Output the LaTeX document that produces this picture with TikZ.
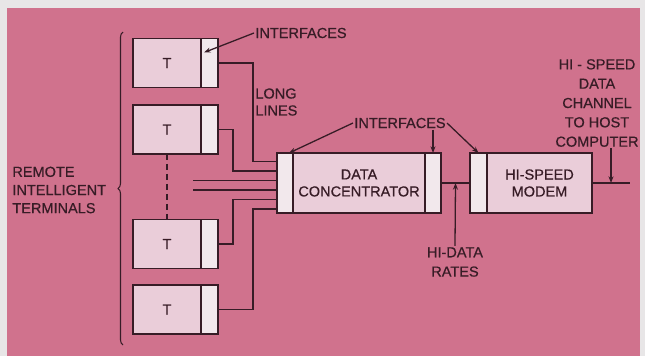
\documentclass[tikz,border=0pt]{standalone}
\usepackage{fontspec,xcolor}
\setmainfont{Liberation Sans}[FakeBold=0.6]
\usetikzlibrary{calc,decorations.pathreplacing,arrows.meta}
\definecolor{pagebg}{RGB}{232,230,231}
\definecolor{panel}{RGB}{208,114,141}
\definecolor{boxfill}{RGB}{234,205,217}
\definecolor{portfill}{RGB}{242,232,236}
\definecolor{ink}{RGB}{55,28,38}

\begin{document}
\begin{tikzpicture}[x=0.3mm, y=-0.3mm,
  every node/.style={font=\fontsize{12.4}{14.5}\selectfont, text=ink, inner sep=1pt},
  unit/.style={draw=ink, line width=1.4pt, fill=boxfill, outer sep=0pt, inner sep=0pt},
  port/.style={draw=ink, line width=1.4pt, fill=portfill, outer sep=0pt, inner sep=0pt},
  wire/.style={draw=ink, line width=1.1pt},
  arr/.style={wire, -{Stealth[length=2mm,width=1.5mm]}}]

  % panel and margins
  \useasboundingbox (0,0) rectangle (645,356);
  \fill[pagebg] (0,0) rectangle (645,356);
  \fill[panel] (7,8) rectangle (640,356);

  % remote terminals, each with its interface
  \foreach \n/\yc in {1/63,2/129.5,3/244,4/309.5}{
    \node[unit, minimum width=68*0.3mm, minimum height=49*0.3mm] (t\n) at (167,\yc) {T};
    \node[port, minimum width=17*0.3mm, minimum height=49*0.3mm, anchor=west] (p\n) at (t\n.east) {};
  }
  \draw[wire, dash pattern=on 5pt off 3.5pt] (t2.south) -- (t3.north);

  % data concentrator
  \node[unit, minimum width=132*0.3mm, minimum height=60*0.3mm, align=center] (dc) at (359,183) {DATA\\CONCENTRATOR};
  \node[port, minimum width=16*0.3mm, minimum height=60*0.3mm, anchor=east] (dcl) at (dc.west) {};
  \node[port, minimum width=16*0.3mm, minimum height=60*0.3mm, anchor=west] (dcr) at (dc.east) {};

  % hi-speed modem
  \node[unit, minimum width=105*0.3mm, minimum height=60*0.3mm, align=center] (md) at (539.5,183) {HI-SPEED\\MODEM};
  \node[port, minimum width=17*0.3mm, minimum height=60*0.3mm, anchor=east] (mdl) at (md.west) {};

  % long lines into the concentrator
  \foreach \k/\dy in {1/8.5,2/18,3/27.5,4/37,5/46.5,6/56}
    \coordinate (e\k) at ($(dcl.north west)+(0,\dy)$);
  \foreach \n/\k/\xv in {1/1/253,2/2/233,3/5/233,4/6/253}{
    \coordinate (k\n) at (\xv,0);
    \draw[wire] (p\n.east) -| (k\n |- e\k) -- (e\k);
  }
  \coordinate (fe) at (193,0);
  \foreach \k in {3,4}
    \draw[wire] (fe |- e\k) -- (e\k);

  % concentrator -> modem -> host
  \coordinate (mid) at ($(dcr.east)!0.5!(mdl.west)$);
  \coordinate (host) at ($(md.east)+(38,0)$);
  \coordinate (tap) at ($(md.east)!0.5!(host)$);
  \draw[wire] (dcr.east) -- (mdl.west);
  \draw[wire] (md.east) -- (host);

  % brace and labels
  \coordinate (btop) at (123,32);
  \coordinate (bbot) at (123,345);
  \draw[wire, line width=0.9pt, decorate, decoration={brace, amplitude=1.5mm}] (bbot) -- (btop);
  \node[anchor=west, align=left, font=\fontsize{12.4}{15.5}\selectfont] (rit) at (11,190) {REMOTE\\INTELLIGENT\\TERMINALS};

  \node[anchor=west] (ifa) at (254,33) {INTERFACES};
  \draw[arr] (ifa.west) -- ($(p1.north west)+(3,14)$);

  \node[anchor=west, align=left] (ll) at (254,102) {LONG\\LINES};

  \node (ifb) at (400,123) {INTERFACES};
  \draw[arr] (ifb.west) -- ($(dcl.north)+(4,0)$);
  \draw[arr] (ifb.south -| dcr.north) -- (dcr.north);
  \draw[arr] (ifb.east) -- (mdl.north);

  \node[align=center, font=\fontsize{12.4}{16.5}\selectfont] (rate) at (455,262) {HI-DATA\\RATES};
  \draw[arr] (rate.north) -- (mid);

  \node[align=center, font=\fontsize{12.4}{16.5}\selectfont] (hc) at (597,103) {HI - SPEED\\DATA\\CHANNEL\\TO HOST\\COMPUTER};
  \draw[arr] (hc.south -| tap) -- (tap);
\end{tikzpicture}
\end{document}
